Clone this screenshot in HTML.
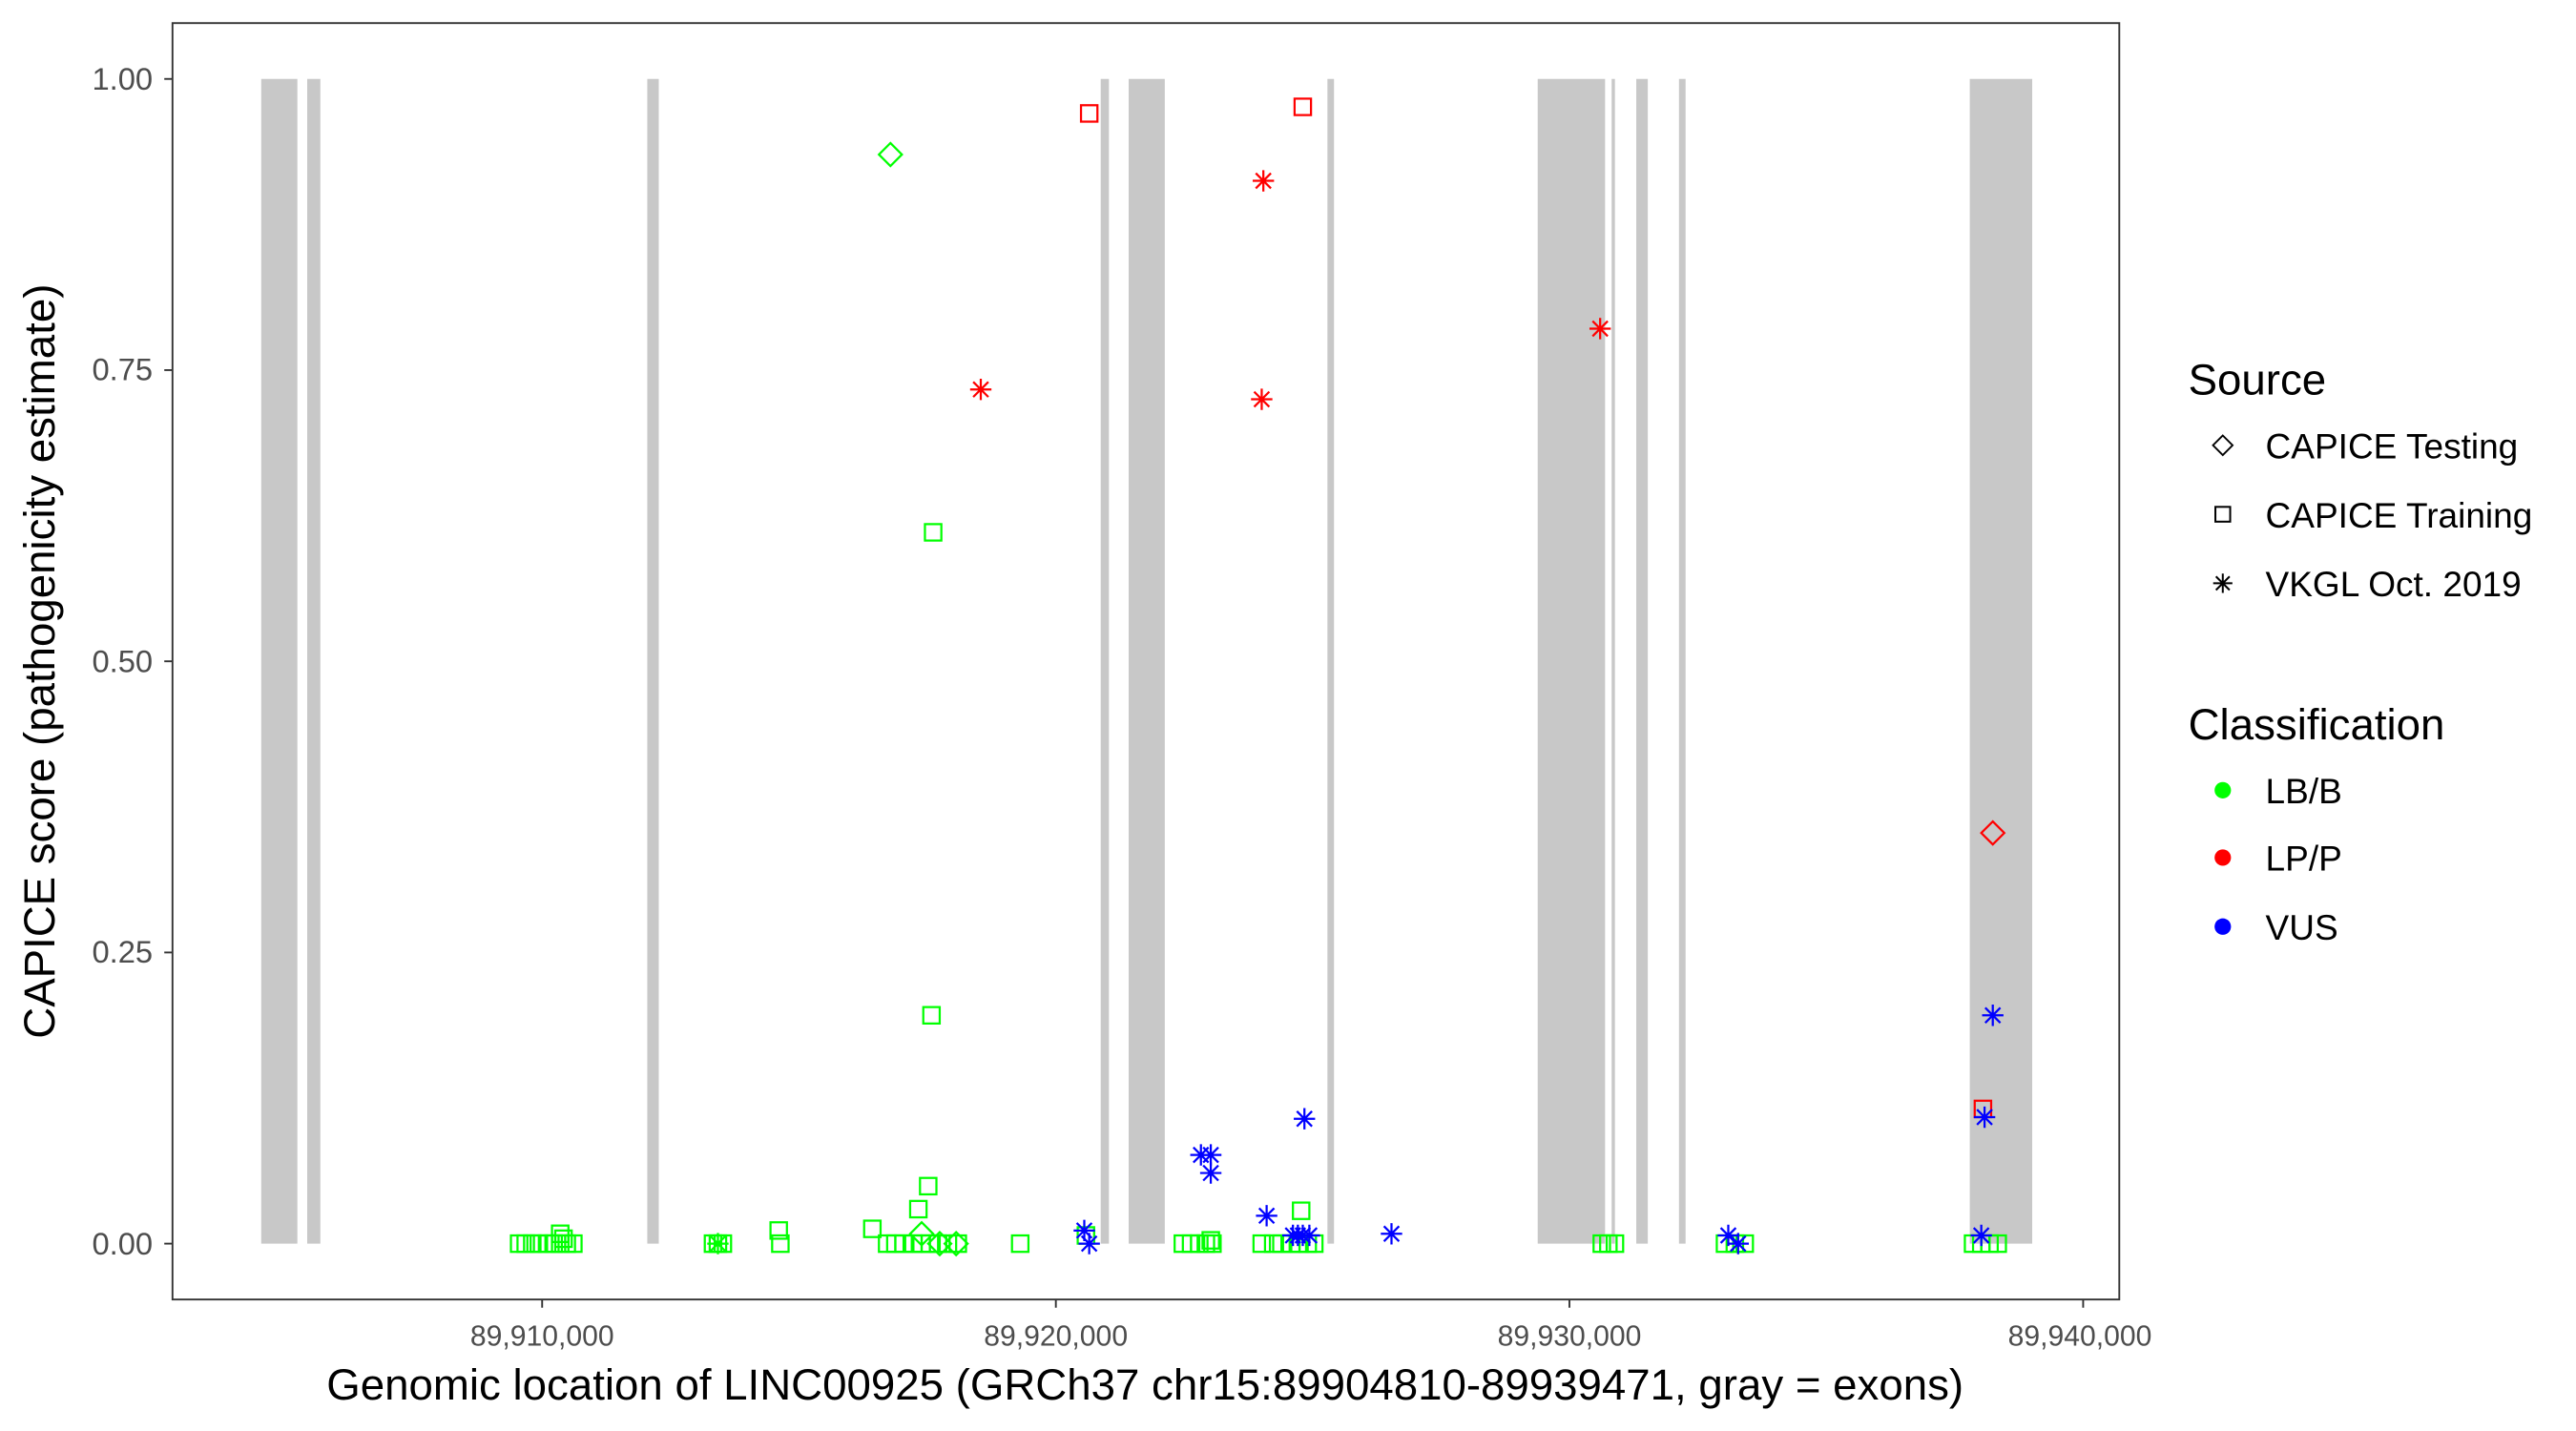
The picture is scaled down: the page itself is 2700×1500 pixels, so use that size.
<!DOCTYPE html>
<html><head><meta charset="utf-8"><style>
html,body{margin:0;padding:0;background:#fff;}
svg{display:block;}
text{font-family:"Liberation Sans",Arial,sans-serif;}
</style></head><body>
<svg width="2700" height="1500" viewBox="0 0 1568 871" xmlns="http://www.w3.org/2000/svg">
<defs>
<g id="sq"><rect x="-5" y="-5" width="10" height="10" fill="none" stroke="currentColor" stroke-width="1.3"/></g>
<g id="dm"><path d="M0,-7 L7,0 L0,7 L-7,0 Z" fill="none" stroke="currentColor" stroke-width="1.3"/></g>
<g id="st"><path d="M0,-6.5V6.5M-6.5,0H6.5M-4.6,-4.6L4.6,4.6M-4.6,4.6L4.6,-4.6" fill="none" stroke="currentColor" stroke-width="1.3"/></g>
</defs>
<rect x="0" y="0" width="1568" height="871" fill="#fff"/>
<g fill="#c8c8c8">
<rect x="159" y="48" width="22" height="709"/>
<rect x="187" y="48" width="8" height="709"/>
<rect x="394" y="48" width="7" height="709"/>
<rect x="670" y="48" width="5" height="709"/>
<rect x="687" y="48" width="22" height="709"/>
<rect x="808" y="48" width="4" height="709"/>
<rect x="936" y="48" width="41" height="709"/>
<rect x="981" y="48" width="2" height="709"/>
<rect x="996" y="48" width="7" height="709"/>
<rect x="1022" y="48" width="4" height="709"/>
<rect x="1199" y="48" width="38" height="709"/>
</g>
<g style="color:#00ff00">
<use href="#sq" x="316" y="757"/><use href="#sq" x="320" y="757"/><use href="#sq" x="324" y="757"/><use href="#sq" x="328" y="757"/><use href="#sq" x="333" y="757"/><use href="#sq" x="337" y="757"/><use href="#sq" x="341" y="757"/><use href="#sq" x="345" y="757"/><use href="#sq" x="349" y="757"/><use href="#sq" x="341" y="751"/><use href="#sq" x="343" y="754"/>
<use href="#sq" x="434" y="757"/><use href="#sq" x="437" y="757"/><use href="#sq" x="440" y="757"/><use href="#st" x="437" y="757"/>
<use href="#sq" x="474" y="749"/><use href="#sq" x="475" y="757"/>
<use href="#sq" x="531" y="748"/><use href="#sq" x="540" y="757"/><use href="#sq" x="545" y="757"/><use href="#sq" x="550" y="757"/><use href="#sq" x="556" y="757"/><use href="#sq" x="561" y="757"/><use href="#sq" x="566" y="757"/><use href="#sq" x="571" y="757"/><use href="#sq" x="577" y="757"/><use href="#sq" x="583" y="757"/>
<use href="#sq" x="559" y="736"/><use href="#sq" x="565" y="722"/><use href="#sq" x="567" y="618"/><use href="#sq" x="568" y="324"/><use href="#sq" x="621" y="757"/>
<use href="#dm" x="542" y="94"/><use href="#dm" x="561" y="751"/><use href="#dm" x="572" y="757"/><use href="#dm" x="582" y="757"/>
<use href="#sq" x="661" y="752"/>
<use href="#sq" x="720" y="757"/><use href="#sq" x="725" y="757"/><use href="#sq" x="730" y="757"/><use href="#sq" x="734" y="757"/><use href="#sq" x="738" y="757"/><use href="#sq" x="737" y="755"/>
<use href="#sq" x="768" y="757"/><use href="#sq" x="775" y="757"/><use href="#sq" x="780" y="757"/><use href="#sq" x="786" y="757"/><use href="#sq" x="791" y="757"/><use href="#sq" x="796" y="757"/><use href="#sq" x="800" y="757"/><use href="#sq" x="792" y="737"/>
<use href="#sq" x="975" y="757"/><use href="#sq" x="979" y="757"/><use href="#sq" x="983" y="757"/>
<use href="#sq" x="1050" y="757"/><use href="#sq" x="1056" y="757"/><use href="#sq" x="1062" y="757"/>
<use href="#sq" x="1201" y="757"/><use href="#sq" x="1206" y="757"/><use href="#sq" x="1211" y="757"/><use href="#sq" x="1216" y="757"/>
</g>
<g style="color:#ff0000">
<use href="#sq" x="663" y="69"/><use href="#st" x="597" y="237"/>
<use href="#st" x="768" y="243"/><use href="#st" x="769" y="110"/><use href="#sq" x="793" y="65"/>
<use href="#st" x="974" y="200"/>
<use href="#dm" x="1213" y="507"/><use href="#sq" x="1207" y="675"/>
</g>
<g style="color:#0000ff">
<use href="#st" x="660" y="749"/><use href="#st" x="663" y="757"/>
<use href="#st" x="731" y="703"/><use href="#st" x="737" y="703"/><use href="#st" x="737" y="714"/>
<use href="#st" x="771" y="740"/>
<use href="#st" x="787" y="752"/><use href="#st" x="790" y="752"/><use href="#st" x="793" y="752"/><use href="#st" x="797" y="752"/><use href="#st" x="794" y="681"/><use href="#st" x="847" y="751"/>
<use href="#st" x="1052" y="752"/><use href="#st" x="1058" y="757"/>
<use href="#st" x="1213" y="618"/><use href="#st" x="1208" y="680"/><use href="#st" x="1206" y="752"/>
</g>
<rect x="105" y="14" width="1185" height="777" fill="none" stroke="#333" stroke-width="1.1"/>
<g stroke="#333" stroke-width="1.1">
<line x1="100" y1="48" x2="105" y2="48"/><line x1="100" y1="225.25" x2="105" y2="225.25"/><line x1="100" y1="402.5" x2="105" y2="402.5"/><line x1="100" y1="579.75" x2="105" y2="579.75"/><line x1="100" y1="757" x2="105" y2="757"/>
<line x1="330" y1="791" x2="330" y2="796"/><line x1="642.7" y1="791" x2="642.7" y2="796"/><line x1="955.3" y1="791" x2="955.3" y2="796"/><line x1="1268" y1="791" x2="1268" y2="796"/>
</g>
<g font-size="19" fill="#4d4d4d" text-anchor="end">
<text x="93" y="54.5">1.00</text><text x="93" y="231.5">0.75</text><text x="93" y="409">0.50</text><text x="93" y="586">0.25</text><text x="93" y="763.5">0.00</text>
</g>
<g font-size="17.5" fill="#4d4d4d" text-anchor="middle">
<text x="330" y="819">89,910,000</text><text x="642.7" y="819">89,920,000</text><text x="955.3" y="819">89,930,000</text><text x="1266" y="819">89,940,000</text>
</g>
<text x="697" y="852" font-size="26.5" text-anchor="middle" fill="#000">Genomic location of LINC00925 (GRCh37 chr15:89904810-89939471, gray = exons)</text>
<text transform="translate(33,402.5) rotate(-90)" font-size="26.5" text-anchor="middle" fill="#000">CAPICE score (pathogenicity estimate)</text>
<text x="1332" y="240" font-size="26.5" fill="#000">Source</text>
<g style="color:#000">
<use href="#dm" x="1353" y="271" transform="translate(1353,271) scale(0.85) translate(-1353,-271)"/>
<use href="#sq" x="1353" y="313" transform="translate(1353,313) scale(0.9) translate(-1353,-313)"/>
<use href="#st" x="1353" y="355" transform="translate(1353,355) scale(0.9) translate(-1353,-355)"/>
</g>
<g font-size="21.5" fill="#000">
<text x="1379" y="279">CAPICE Testing</text><text x="1379" y="321">CAPICE Training</text><text x="1379" y="363">VKGL Oct. 2019</text>
</g>
<text x="1332" y="450" font-size="26.5" fill="#000">Classification</text>
<circle cx="1353" cy="481" r="5" fill="#00ff00"/><circle cx="1353" cy="522" r="5" fill="#ff0000"/><circle cx="1353" cy="564" r="5" fill="#0000ff"/>
<g font-size="21.5" fill="#000">
<text x="1379" y="489">LB/B</text><text x="1379" y="530">LP/P</text><text x="1379" y="572">VUS</text>
</g>
</svg>
</body></html>
